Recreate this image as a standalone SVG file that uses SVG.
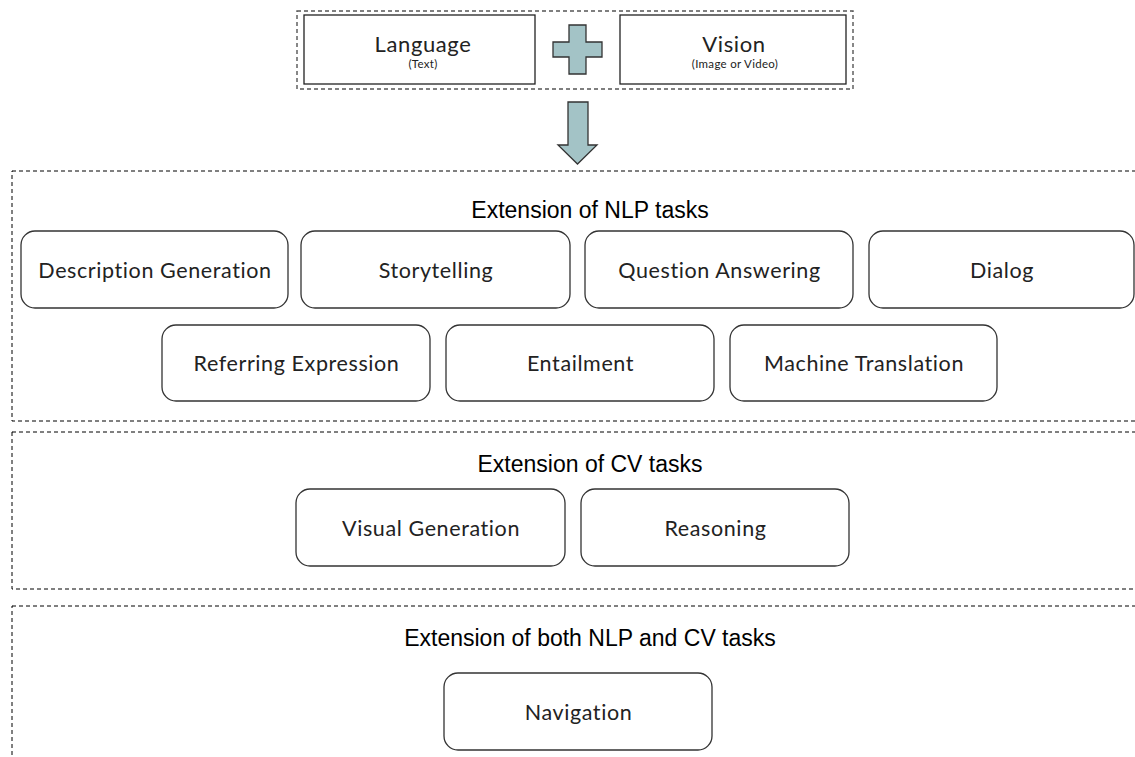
<svg xmlns="http://www.w3.org/2000/svg" width="1135" height="757" viewBox="0 0 1135 757">
<style>
.grp{fill:none;stroke:#000;stroke-width:1;stroke-dasharray:4 3}
.topgrp{fill:none;stroke:#555;stroke-width:1.4;stroke-dasharray:4 3}
.sq{fill:#fff;stroke:#222;stroke-width:1.3}
.task{fill:#fff;stroke:#333;stroke-width:1.3}
.lbl{font-family:Lato,"Open Sans",sans-serif;font-size:21.5px;letter-spacing:0.6px;fill:#222;text-anchor:middle}
.big{font-family:Lato,"Open Sans",sans-serif;font-size:22px;letter-spacing:0.6px;fill:#222;text-anchor:middle}
.small{font-family:Lato,"Open Sans",sans-serif;font-size:11.5px;letter-spacing:0.3px;fill:#222;text-anchor:middle}
.head{font-family:"Liberation Sans",Arial,sans-serif;font-size:23px;fill:#000;text-anchor:middle}
.shape{fill:#a3c3c6;stroke:#333;stroke-width:1.3}
</style>
<rect width="1135" height="757" fill="#fff"/>
<g id="input-group">
<rect class="topgrp" x="297" y="11" width="556" height="78"/>
</g>
<g id="language">
<rect class="sq" x="304" y="15" width="231" height="69"/>
<text class="big" x="423" y="52">Language</text>
<text class="small" x="423" y="68">(Text)</text>
</g>
<g id="plus">
<path class="shape" d="M569,25 H586 V42 H602 V57 H586 V74 H569 V57 H553 V42 H569 Z"/>
</g>
<g id="vision">
<rect class="sq" x="620" y="15" width="226" height="69"/>
<text class="big" x="734" y="52">Vision</text>
<text class="small" x="735" y="68">(Image or Video)</text>
</g>
<g id="connectors">
<path class="shape" d="M568,102 H588 V145 H597 L577.5,164 L558,145 H568 Z"/>
</g>
<g id="nlp-group">
<rect class="grp" x="12" y="171" width="1140" height="250"/>
<text class="head" x="590" y="218">Extension of NLP tasks</text>
</g>
<g id="description-generation">
<rect class="task" x="21" y="231" width="267" height="77" rx="14"/>
<text class="lbl" x="155" y="278">Description Generation</text>
</g>
<g id="storytelling">
<rect class="task" x="301" y="231" width="269" height="77" rx="14"/>
<text class="lbl" x="436" y="278">Storytelling</text>
</g>
<g id="question-answering">
<rect class="task" x="585" y="231" width="268" height="77" rx="14"/>
<text class="lbl" x="719.5" y="278">Question Answering</text>
</g>
<g id="dialog">
<rect class="task" x="869" y="231" width="265" height="77" rx="14"/>
<text class="lbl" x="1002" y="278">Dialog</text>
</g>
<g id="referring-expression">
<rect class="task" x="162" y="325" width="268" height="76" rx="14"/>
<text class="lbl" x="296.5" y="371">Referring Expression</text>
</g>
<g id="entailment">
<rect class="task" x="446" y="325" width="268" height="76" rx="14"/>
<text class="lbl" x="580.5" y="371">Entailment</text>
</g>
<g id="machine-translation">
<rect class="task" x="730" y="325" width="267" height="76" rx="14"/>
<text class="lbl" x="864" y="371">Machine Translation</text>
</g>
<g id="cv-group">
<rect class="grp" x="12" y="432" width="1140" height="157"/>
<text class="head" x="590" y="472">Extension of CV tasks</text>
</g>
<g id="visual-generation">
<rect class="task" x="296" y="489" width="269" height="77" rx="14"/>
<text class="lbl" x="431" y="536">Visual Generation</text>
</g>
<g id="reasoning">
<rect class="task" x="581" y="489" width="268" height="77" rx="14"/>
<text class="lbl" x="715.5" y="536">Reasoning</text>
</g>
<g id="both-group">
<rect class="grp" x="12" y="606" width="1140" height="170"/>
<text class="head" x="590" y="646">Extension of both NLP and CV tasks</text>
</g>
<g id="navigation">
<rect class="task" x="444" y="673" width="268" height="77" rx="14"/>
<text class="lbl" x="578.5" y="720">Navigation</text>
</g>
</svg>
